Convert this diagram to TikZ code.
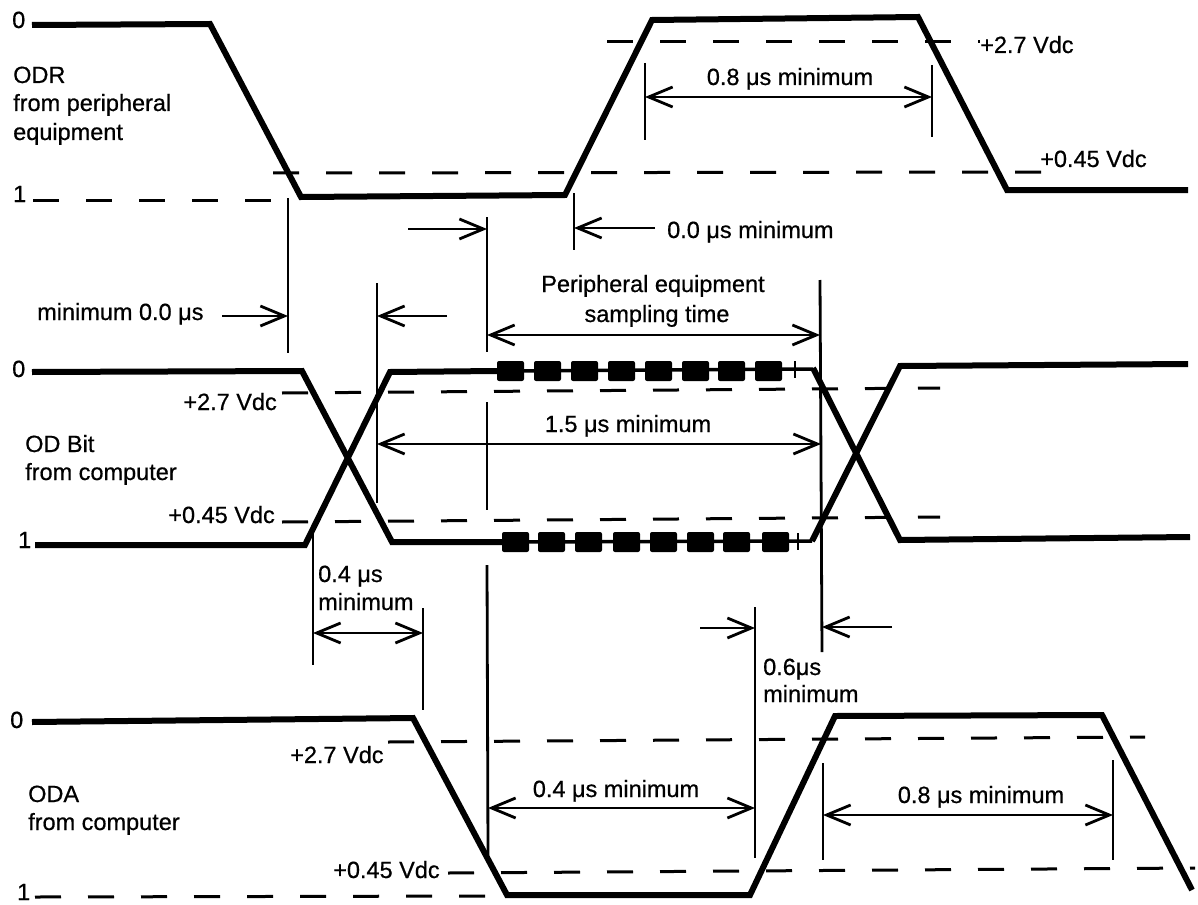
\documentclass[tikz,border=0pt]{standalone}
\usepackage{fontspec}
\setmainfont{Liberation Sans}
\newfontfamily\labelfont{Liberation Sans}[FakeBold=0.6]
\usetikzlibrary{arrows.meta}
\begin{document}
\begin{tikzpicture}[x=1pt,y=-1pt,
  wave/.style={line width=6pt,line join=miter,miter limit=6},
  thinwave/.style={line width=3.5pt},
  thr/.style={line width=3pt,dash pattern=on 26pt off 27pt},
  dimline/.style={line width=2.8pt},
  tip/.style={dimline,-{Straight Barb[length=24pt,width=20pt]}},
  dbl/.style={dimline,{Straight Barb[length=24pt,width=20pt]}-{Straight Barb[length=24pt,width=20pt]}},
  lbl/.style={inner sep=0pt,font=\labelfont\fontsize{23.5}{28}\selectfont},
  blk/.style={fill=black,rounded corners=2pt}]
\useasboundingbox (0,0) rectangle (1198,904);

% ---------------- ODR ----------------
\node[lbl,anchor=base west] (r0) at (12,28) {0};
\node[lbl,anchor=base west] (r1) at (13,202) {1};
\node[lbl,anchor=base west] (rname1) at (13,83) {ODR};
\node[lbl,anchor=base west] (rname2) at (13,111) {from peripheral};
\node[lbl,anchor=base west] (rname3) at (13,140) {equipment};
\node[lbl,anchor=base west] (rv27) at (980,53) {+2.7 Vdc};
\node[lbl,anchor=base west] (rv045) at (1040,167) {+0.45 Vdc};

\draw[thr] (33,200) -- (285,200);
\draw[thr] (273,173) -- (1042,172);
\draw[thr] (607,42) -- (980,42);

\draw[wave] (32,25) -- (210,24) -- (301,197) -- (565,195) -- (652,20) -- (918,17) -- (1007,190) -- (1188,190);

% 0.8 us minimum (ODR)
\coordinate (a1t) at (645,63); \coordinate (a1b) at (645,140);
\coordinate (a2t) at (932,65); \coordinate (a2b) at (932,137);
\draw[dimline] (a1t) -- (a1b);
\draw[dimline] (a2t) -- (a2b);
\coordinate (d1l) at (645,97); \coordinate (d1r) at (932,97);
\draw[dbl] (d1l) -- (d1r);
\node[lbl,anchor=base] (t08a) at (790,85) {0.8 μs minimum};

% 0.0 us minimum
\coordinate (v4t) at (574,193); \coordinate (v4b) at (574,250);
\draw[dimline] (v4t) -- (v4b);
\coordinate (s4) at (655,228); \coordinate (e4) at (574,228);
\draw[tip] (s4) -- (e4);
\node[lbl,anchor=base west] (t00a) at (667,238) {0.0 μs minimum};

% minimum 0.0 us
\coordinate (v1t) at (288,198); \coordinate (v1b) at (288,353);
\draw[dimline] (v1t) -- (v1b);
\coordinate (s1) at (222,316); \coordinate (e1) at (288,316);
\draw[tip] (s1) -- (e1);
\node[lbl,anchor=base west] (t00b) at (37,320) {minimum 0.0 μs};

% line at 377
\coordinate (v2t) at (377,283); \coordinate (v2b) at (377,503);
\draw[dimline] (v2t) -- (v2b);
\coordinate (s2) at (447,316); \coordinate (e2) at (377,316);
\draw[tip] (s2) -- (e2);

% line at 487
\draw[dimline] (487,217) -- (487,352);
\draw[dimline] (487,402) -- (487,510);
\draw[dimline] (487,565) -- (488,855);
\coordinate (s3) at (408,229); \coordinate (e3) at (487,229);
\draw[tip] (s3) -- (e3);

% sampling time
\coordinate (v7t) at (820,280); \coordinate (v7b) at (822,652);
\draw[dimline] (v7t) -- (v7b);
\coordinate (sl) at (487,335); \coordinate (sr) at (820,335);
\draw[dbl] (sl) -- (sr);
\node[lbl,anchor=base] (tper) at (653,292) {Peripheral equipment};
\node[lbl,anchor=base] (tsam) at (657,322) {sampling time};

% ---------------- OD Bit ----------------
\node[lbl,anchor=base west] (b0) at (12,377) {0};
\node[lbl,anchor=base west] (b1) at (18,548) {1};
\node[lbl,anchor=base west] (bname1) at (25,452) {OD Bit};
\node[lbl,anchor=base west] (bname2) at (25,480) {from computer};
\node[lbl,anchor=base east] (bv27) at (277,410) {+2.7 Vdc};
\node[lbl,anchor=base east] (bv045) at (275,523) {+0.45 Vdc};

\draw[thr] (282,393) -- (940,388);
\draw[thr] (282,522) -- (940,517);

\draw[wave] (32,372) -- (302,371) -- (392,542) -- (502,542);
\draw[wave] (35,545) -- (305,545) -- (390,372) -- (497,371);
\draw[wave] (813,368) -- (900,540) -- (1190,537);
\draw[wave] (812,541) -- (900,366) -- (1188,364);

\draw[thinwave] (497,371) -- (813,369);
\draw[thinwave] (500,542) -- (812,541);
\foreach \x in {497,534,571,608,645,682,718,755}
  \fill[blk] (\x,361) rectangle ++(27,20);
\foreach \x in {502,538,575,613,650,687,723,762}
  \fill[blk] (\x,532) rectangle ++(27,20);
\draw[line width=2.5pt] (795,361) -- (795,378);
\draw[line width=2.5pt] (798,533) -- (798,550);

% 1.5 us minimum
\coordinate (fl) at (377,444); \coordinate (fr) at (821,444);
\draw[dbl] (fl) -- (fr);
\node[lbl,anchor=base] (t15) at (628,432) {1.5 μs minimum};

% 0.4 us minimum (OD Bit)
\coordinate (v8t) at (313,533); \coordinate (v8b) at (313,665);
\draw[dimline] (v8t) -- (v8b);
\coordinate (v9t) at (423,608); \coordinate (v9b) at (423,710);
\draw[dimline] (v9t) -- (v9b);
\coordinate (gl) at (313,633); \coordinate (gr) at (423,633);
\draw[dbl] (gl) -- (gr);
\node[lbl,anchor=base west] (t04a) at (318,582) {0.4 μs};
\node[lbl,anchor=base west] (t04b) at (318,610) {minimum};

% 0.6 us minimum
\coordinate (v10t) at (755,607); \coordinate (v10b) at (755,858);
\draw[dimline] (v10t) -- (v10b);
\coordinate (s6) at (700,628); \coordinate (e6) at (755,628);
\draw[tip] (s6) -- (e6);
\coordinate (s7) at (892,627); \coordinate (e7) at (822,627);
\draw[tip] (s7) -- (e7);
\node[lbl,anchor=base west] (t06a) at (763,675) {0.6μs};
\node[lbl,anchor=base west] (t06b) at (763,702) {minimum};

% ---------------- ODA ----------------
\node[lbl,anchor=base west] (c0) at (10,728) {0};
\node[lbl,anchor=base west] (c1) at (17,900) {1};
\node[lbl,anchor=base west] (cname1) at (28,802) {ODA};
\node[lbl,anchor=base west] (cname2) at (28,830) {from computer};
\node[lbl,anchor=base west] (cv27) at (290,763) {+2.7 Vdc};
\node[lbl,anchor=base west] (cv045) at (333,878) {+0.45 Vdc};

\draw[thr] (388,742) -- (1145,737);
\draw[thr] (448,873) -- (1195,868);
\draw[thr] (35,897) -- (485,896);

\draw[wave] (32,722) -- (413,718) -- (507,895) -- (750,895) -- (835,716) -- (1102,715) -- (1192,890);

% 0.4 us minimum (ODA)
\coordinate (hl) at (488,808); \coordinate (hr) at (755,808);
\draw[dbl] (hl) -- (hr);
\node[lbl,anchor=base] (t04c) at (616,797) {0.4 μs minimum};

% 0.8 us minimum (ODA)
\coordinate (v11t) at (823,763); \coordinate (v11b) at (823,860);
\draw[dimline] (v11t) -- (v11b);
\coordinate (v12t) at (1113,760); \coordinate (v12b) at (1113,860);
\draw[dimline] (v12t) -- (v12b);
\coordinate (kl) at (823,815); \coordinate (kr) at (1113,815);
\draw[dbl] (kl) -- (kr);
\node[lbl,anchor=base] (t08b) at (981,803) {0.8 μs minimum};
\end{tikzpicture}
\end{document}
